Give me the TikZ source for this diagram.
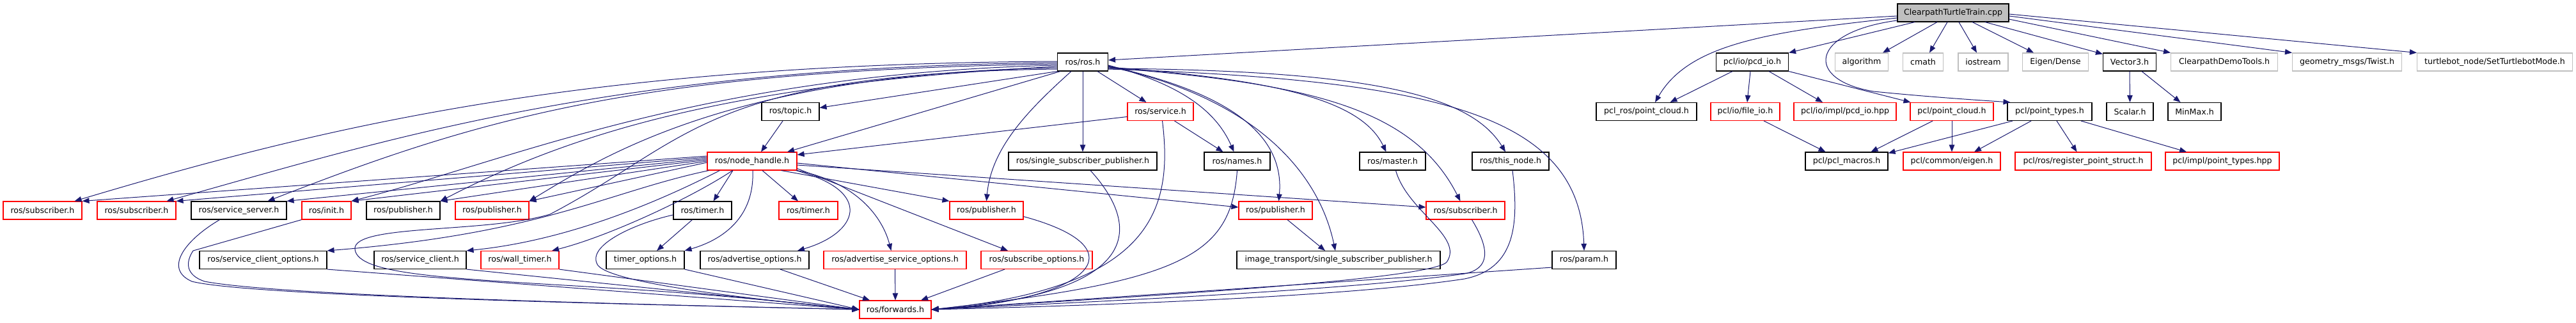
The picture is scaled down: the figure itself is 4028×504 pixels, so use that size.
\documentclass[tikz,border=0pt]{standalone}
\usepackage{fontspec}
\setmainfont{DejaVu Sans}
\usetikzlibrary{arrows.meta}
\definecolor{edgec}{HTML}{191970}
\definecolor{redb}{HTML}{FF0000}
\definecolor{greyb}{HTML}{BFBFBF}
\tikzset{
  box/.style={draw=black, line width=1.1pt, minimum height=28pt, inner sep=0pt, font=\fontsize{12.6}{15}\selectfont, text=black},
  rbox/.style={box, draw=redb},
  gbox/.style={box, draw=greyb},
  mbox/.style={box, fill=greyb},
  e/.style={draw=edgec, line width=1pt, -{Triangle[length=11pt,width=8.5pt]}}
}
\begin{document}
\begin{tikzpicture}[x=1pt,y=-1pt]
\useasboundingbox (0,0) rectangle (4028,504);
% row 0
\node[mbox, minimum width=174pt] (main) at (3054,20) {ClearpathTurtleTrain.cpp};
% row 1
\node[box, minimum width=79pt] (ros) at (1693,97) {ros/ros.h};
\node[box, minimum width=113pt] (pcdio) at (2740,97) {pcl/io/pcd\_io.h};
\node[gbox, minimum width=83pt] (algorithm) at (2911,97) {algorithm};
\node[gbox, minimum width=63pt] (cmath) at (3007,97) {cmath};
\node[gbox, minimum width=78pt] (iostream) at (3101,97) {iostream};
\node[gbox, minimum width=103pt] (eigend) at (3214,97) {Eigen/Dense};
\node[box, minimum width=83pt] (vector3) at (3330,97) {Vector3.h};
\node[gbox, minimum width=167pt] (demotools) at (3478,97) {ClearpathDemoTools.h};
\node[gbox, minimum width=171pt] (twist) at (3670,97) {geometry\_msgs/Twist.h};
\node[gbox, minimum width=243pt] (turtlebot) at (3901,97) {turtlebot\_node/SetTurtlebotMode.h};
% row 2
\node[box, minimum width=90pt] (topic) at (1236,174.5) {ros/topic.h};
\node[rbox, minimum width=103pt] (service) at (1814.5,174.5) {ros/service.h};
\node[box, minimum width=157pt] (pclros) at (2574.5,174.5) {pcl\_ros/point\_cloud.h};
\node[rbox, minimum width=108pt] (fileio) at (2729,174.5) {pcl/io/file\_io.h};
\node[rbox, minimum width=160pt] (pcdiohpp) at (2885,174.5) {pcl/io/impl/pcd\_io.hpp};
\node[rbox, minimum width=130pt] (pointcloud) at (3052,174.5) {pcl/point\_cloud.h};
\node[box, minimum width=132pt] (pointtypes) at (3205,174.5) {pcl/point\_types.h};
\node[box, minimum width=73pt] (scalar) at (3330.5,174.5) {Scalar.h};
\node[box, minimum width=83pt] (minmax) at (3431.5,174.5) {MinMax.h};
% row 3
\node[rbox, minimum width=140pt] (nh) at (1176,252) {ros/node\_handle.h};
\node[box, minimum width=232pt] (ssp) at (1693,252) {ros/single\_subscriber\_publisher.h};
\node[box, minimum width=103pt] (names) at (1934.5,252) {ros/names.h};
\node[box, minimum width=103pt] (master) at (2177.5,252) {ros/master.h};
\node[box, minimum width=120pt] (thisnode) at (2362,252) {ros/this\_node.h};
\node[box, minimum width=129pt] (macros) at (2887.5,252) {pcl/pcl\_macros.h};
\node[rbox, minimum width=152pt] (eigen) at (3052,252) {pcl/common/eigen.h};
\node[rbox, minimum width=213pt] (regstruct) at (3257.5,252) {pcl/ros/register\_point\_struct.h};
\node[rbox, minimum width=178pt] (pthpp) at (3475,252) {pcl/impl/point\_types.hpp};
% row 4
\node[rbox, minimum width=123pt] (subA) at (66.5,329) {ros/subscriber.h};
\node[rbox, minimum width=123pt] (subB) at (213.5,329) {ros/subscriber.h};
\node[box, minimum width=149pt] (srvserver) at (373.5,329) {ros/service\_server.h};
\node[rbox, minimum width=77pt] (init) at (510.5,329) {ros/init.h};
\node[box, minimum width=115pt] (pubA) at (630.5,329) {ros/publisher.h};
\node[rbox, minimum width=115pt] (pubB) at (769.5,329) {ros/publisher.h};
\node[box, minimum width=91pt] (timerA) at (1098.5,329) {ros/timer.h};
\node[rbox, minimum width=92pt] (timerB) at (1264,329) {ros/timer.h};
\node[rbox, minimum width=115pt] (pubC) at (1542.5,329) {ros/publisher.h};
\node[rbox, minimum width=115pt] (pubD) at (1994.5,329) {ros/publisher.h};
\node[rbox, minimum width=123pt] (subC) at (2291.5,329) {ros/subscriber.h};
% row 5
\node[box, minimum width=199pt] (sco) at (411.5,406.5) {ros/service\_client\_options.h};
\node[box, minimum width=144pt] (sclient) at (657,406.5) {ros/service\_client.h};
\node[rbox, minimum width=122pt] (walltimer) at (813,406.5) {ros/wall\_timer.h};
\node[box, minimum width=122pt] (timeropt) at (1009,406.5) {timer\_options.h};
\node[box, minimum width=170pt] (advopt) at (1180,406.5) {ros/advertise\_options.h};
\node[rbox, minimum width=223pt] (advsrvopt) at (1399.5,406.5) {ros/advertise\_service\_options.h};
\node[rbox, minimum width=174pt] (subopt) at (1621,406.5) {ros/subscribe\_options.h};
\node[box, minimum width=318pt] (itssp) at (2093,406.5) {image\_transport/single\_subscriber\_publisher.h};
\node[box, minimum width=100pt] (param) at (2477,406.5) {ros/param.h};
% row 6
\node[rbox, minimum width=112pt] (fwd) at (1400,484) {ros/forwards.h};

% ---- edges from main
\draw[e] ([yshift=-5pt]main.west) -- ([yshift=3pt]ros.east);
\draw[e] ([yshift=-8pt]main.west) .. controls (2760,50) and (2640,70) .. ([xshift=13.5pt]pclros.north);
\draw[e] ([xshift=-60pt]main.south) -- (pcdio.north east);
\draw[e] ([yshift=-12pt]main.west) .. controls (2830,50) and (2820,125) .. (2930,143) .. controls (3020,152) and (3100,157) .. ([xshift=5pt]pointtypes.north west);
\draw[e] ([xshift=-25pt]main.south) -- ([xshift=33pt]algorithm.north);
\draw[e] ([xshift=-9pt]main.south) -- ([xshift=10pt]cmath.north);
\draw[e] ([xshift=9pt]main.south) -- ([xshift=-10pt]iostream.north);
\draw[e] ([xshift=30pt]main.south) -- ([xshift=-34pt]eigend.north);
\draw[e] ([xshift=50pt]main.south) -- ([yshift=-2pt]vector3.north west);
\draw[e] ([yshift=-10pt]main.east) -- (demotools.north west);
\draw[e] ([yshift=-5pt]main.east) -- (twist.north west);
\draw[e] ([yshift=-2pt]main.east) -- (turtlebot.north west);
% ---- pcl
\draw[e] ([xshift=-31pt]pcdio.south) -- ([xshift=37pt]pclros.north);
\draw[e] ([xshift=-3pt]pcdio.south) -- ([xshift=3pt]fileio.north);
\draw[e] ([xshift=26pt]pcdio.south) -- ([xshift=-35pt]pcdiohpp.north);
\draw[e] (pcdio.south east) -- ([xshift=1pt]pointcloud.north west);
\draw[e] ([xshift=29pt]fileio.south) -- ([xshift=-33pt]macros.north);
\draw[e] ([xshift=-30pt]pointcloud.south) -- ([xshift=38pt]macros.north);
\draw[e] (pointcloud.south) -- (eigen.north);
\draw[e] ([xshift=-58pt]pointtypes.south) -- ([yshift=-2pt]macros.north east);
\draw[e] ([xshift=-29pt]pointtypes.south) -- ([xshift=35pt]eigen.north);
\draw[e] ([xshift=11pt]pointtypes.south) -- ([xshift=-10pt]regstruct.north);
\draw[e] ([xshift=49pt]pointtypes.south) -- ([xshift=-56pt]pthpp.north);
\draw[e] (vector3.south) -- (scalar.north);
\draw[e] ([xshift=19pt]vector3.south) -- ([xshift=-22pt]minmax.north);
% ---- ros.h right / down
\draw[e] (ros.south west) -- ([yshift=6pt]topic.east);
\draw[e] ([xshift=5pt]ros.south west) -- ([xshift=55pt]nh.north);
\draw[e] ([xshift=23pt]ros.south) -- ([xshift=-22pt]service.north);
\draw[e] (ros.south) -- (ssp.north);
\draw[e] ([xshift=-18pt]ros.south) .. controls (1610,170) and (1550,230) .. (pubC.north);
\draw[e] ([yshift=-5pt]ros.east) .. controls (1840,130) and (1900,170) .. ([xshift=-5pt]names.north);
\draw[e] ([yshift=-6pt]ros.east) .. controls (1900,140) and (2010,200) .. ([xshift=5pt]pubD.north);
\draw[e] ([yshift=-7pt]ros.east) .. controls (1950,150) and (2060,260) .. ([xshift=-5pt]itssp.north);
\draw[e] ([yshift=-8pt]ros.east) .. controls (2010,125) and (2130,160) .. ([xshift=-10pt]master.north);
\draw[e] ([yshift=-9pt]ros.east) .. controls (2050,130) and (2210,170) .. ([xshift=-8pt]subC.north);
\draw[e] ([yshift=-10pt]ros.east) .. controls (2150,110) and (2300,150) .. ([xshift=-8pt]thisnode.north);
\draw[e] ([yshift=-11pt]ros.east) .. controls (2250,125) and (2470,180) .. (param.north);
% ---- ros.h left
\draw[e] ([yshift=1pt]ros.west) .. controls (900,100) and (500,200) .. ([xshift=-12pt]subA.north east);
\draw[e] ([yshift=-1pt]ros.west) .. controls (950,105) and (600,220) .. ([xshift=-15pt]subB.north east);
\draw[e] ([yshift=-3pt]ros.west) .. controls (1000,110) and (750,185) .. ([xshift=-30pt]srvserver.north east);
\draw[e] ([yshift=-5pt]ros.west) .. controls (1100,115) and (800,250) .. (init.north east);
\draw[e] ([yshift=-7pt]ros.west) .. controls (1150,130) and (900,205) .. (pubA.north east);
\draw[e] ([yshift=-9pt]ros.west) .. controls (1150,115) and (950,240) .. (pubB.north east);
\draw[e] ([yshift=-11pt]ros.west) .. controls (1100,115) and (1080,220) .. (860,335) .. controls (760,365) and (550,350) .. (555,390) .. controls (560,430) and (700,435) .. (950,450) .. controls (1150,462) and (1280,478) .. (fwd.west);
% ---- topic / service
\draw[e] ([xshift=-12pt]topic.south) -- ([xshift=14pt]nh.north);
\draw[e] ([yshift=-8pt]service.west) -- ([yshift=10pt]nh.east);
\draw[e] ([xshift=22pt]service.south) -- ([xshift=-22pt]names.north);
\draw[e] ([xshift=3pt]service.south) .. controls (1835,330) and (1800,450) .. (fwd.east);
% ---- node_handle left
\draw[e] ([yshift=8pt]nh.west) -- (subA.north east);
\draw[e] ([yshift=6pt]nh.west) -- (subB.north east);
\draw[e] ([yshift=4pt]nh.west) -- (srvserver.north east);
\draw[e] ([yshift=2pt]nh.west) -- (init.north east);
\draw[e] (nh.west) -- (pubA.north east);
\draw[e] ([yshift=-2pt]nh.west) -- (pubB.north east);
\draw[e] ([xshift=3pt]nh.south west) .. controls (950,300) and (850,365) .. (sco.north east);
\draw[e] ([xshift=20pt]nh.south west) .. controls (1050,305) and (900,375) .. (sclient.north east);
\draw[e] ([xshift=40pt]nh.south west) .. controls (1080,310) and (950,370) .. ([xshift=50pt]walltimer.north);
% ---- node_handle down / right
\draw[e] ([xshift=-30pt]nh.south) -- ([xshift=17pt]timerA.north);
\draw[e] ([xshift=16pt]nh.south) -- ([xshift=-16pt]timerB.north);
\draw[e] ([xshift=1pt]nh.south) .. controls (1180,340) and (1130,375) .. (timeropt.north east);
\draw[e] ([xshift=-2pt]nh.south east) .. controls (1370,300) and (1340,365) .. ([xshift=67pt]advopt.north);
\draw[e] (nh.south east) .. controls (1340,285) and (1380,340) .. ([xshift=-6pt]advsrvopt.north);
\draw[e] ([yshift=3pt]nh.south east) -- ([xshift=-45pt]subopt.north);
\draw[e] ([xshift=-25pt]nh.south east) -- (pubC.north west);
\draw[e] ([yshift=-3pt]nh.east) -- ([yshift=5pt]pubD.west);
\draw[e] ([yshift=-6pt]nh.east) -- ([yshift=5pt]subC.west);
% ---- others
\draw[e] ([xshift=18.5pt]pubD.south) -- ([xshift=-21pt]itssp.north);
\draw[e] ([xshift=-16pt]timerA.south) -- ([xshift=18pt]timeropt.north);
\draw[e] ([yshift=-7pt]timerA.west) .. controls (990,350) and (915,385) .. (935,415) .. controls (960,445) and (1200,470) .. (fwd.west);
\draw[e] ([xshift=-30pt]srvserver.south) .. controls (290,375) and (255,420) .. (300,440) .. controls (400,465) and (1100,478) .. (fwd.west);
\draw[e] (init.south west) -- (302,392) .. controls (290,410) and (290,430) .. (320,440) .. controls (450,465) and (1100,478) .. (fwd.west);
\draw[e] (sco.south east) -- (fwd.west);
\draw[e] (sclient.south east) -- (fwd.west);
\draw[e] (walltimer.south east) -- (fwd.west);
\draw[e] (timeropt.south east) -- (fwd.west);
\draw[e] ([xshift=40pt]advopt.south) -- ([xshift=-40pt]fwd.north);
\draw[e] (advsrvopt.south) -- (fwd.north);
\draw[e] ([xshift=-50pt]subopt.south) -- ([xshift=40pt]fwd.north);
\draw[e] ([yshift=5pt]pubC.south east) .. controls (1790,390) and (1700,470) .. (fwd.east);
\draw[e] ([xshift=12pt]ssp.south) .. controls (1790,360) and (1780,460) .. (fwd.east);
\draw[e] (names.south) .. controls (1925,400) and (1850,440) .. (fwd.east);
\draw[e] ([xshift=5pt]master.south) .. controls (2200,330) and (2290,370) .. (2262,410) .. controls (2230,440) and (1700,468) .. (fwd.east);
\draw[e] ([xshift=10pt]subC.south) .. controls (2330,390) and (2330,420) .. (2290,428) .. controls (2100,455) and (1700,472) .. (fwd.east);
\draw[e] ([xshift=3pt]thisnode.south) .. controls (2375,350) and (2370,420) .. (2290,436) .. controls (2100,465) and (1700,478) .. (fwd.east);
\draw[e] ([yshift=3pt]param.south west) -- (fwd.east);
\end{tikzpicture}
\end{document}
